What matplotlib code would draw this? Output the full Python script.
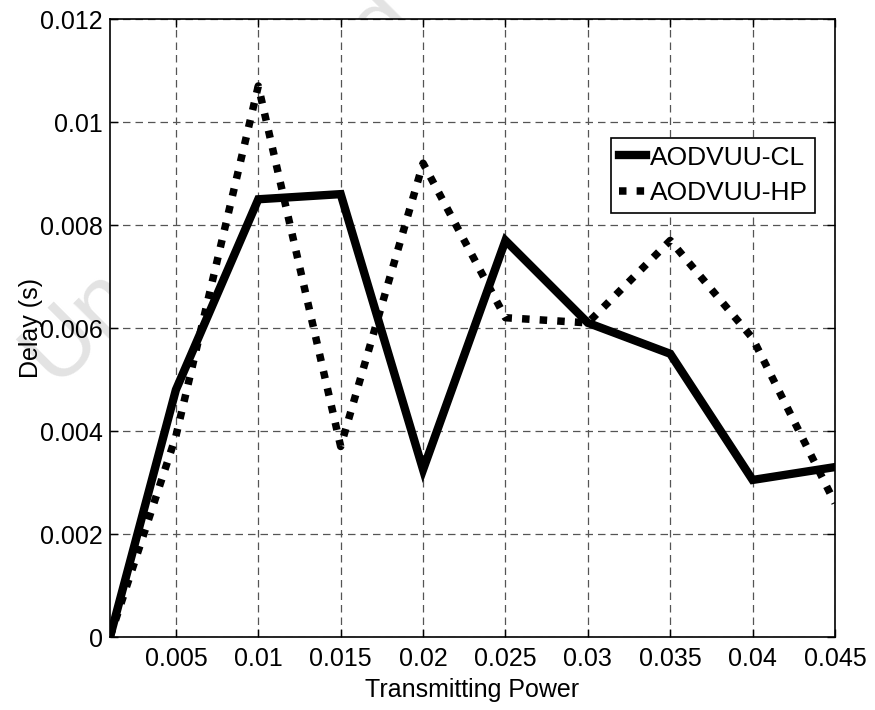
import matplotlib
matplotlib.use("Agg")
import matplotlib.pyplot as plt

plt.rcParams['font.family'] = ['Liberation Sans', 'DejaVu Sans']

# data
tx_power = [0.001, 0.005, 0.01, 0.015, 0.02, 0.025, 0.03, 0.035, 0.04, 0.045]
delay_cl = [0.0, 0.0048, 0.0085, 0.0086, 0.00325, 0.0077, 0.0061, 0.0055, 0.00305, 0.0033]
delay_hp = [0.0, 0.0039, 0.0107, 0.0037, 0.0092, 0.0062, 0.0061, 0.0077, 0.0058, 0.0026]

x_ticks = [0.005, 0.01, 0.015, 0.02, 0.025, 0.03, 0.035, 0.04, 0.045]
x_labels = ['0.005', '0.01', '0.015', '0.02', '0.025', '0.03', '0.035', '0.04', '0.045']
y_ticks = [0, 0.002, 0.004, 0.006, 0.008, 0.01, 0.012]
y_labels = ['0', '0.002', '0.004', '0.006', '0.008', '0.01', '0.012']

fig = plt.figure(figsize=(8.75, 7.1), dpi=100)
ax = fig.add_axes([0.1257, 0.1028, 0.8286, 0.8704])
ax.set_facecolor('white')

# faint watermark, drawn under the axes so it only shows in the margins
fig.text(0.063, 0.458, 'Uncorrected', fontsize=68, color='#e3e3e3', rotation=45,
         rotation_mode='anchor', ha='left', va='baseline', zorder=-1)

ax.plot(tx_power, delay_cl, color='black', lw=6, solid_joinstyle='miter',
        label='AODVUU-CL', zorder=3)
ax.plot(tx_power, delay_hp, color='black', lw=5.4, linestyle=(0, (1, 1.35)),
        dash_capstyle='butt', label='AODVUU-HP', zorder=3)

ax.set_xlim(0.001, 0.045)
ax.set_ylim(0, 0.012)
ax.set_xticks(x_ticks)
ax.set_xticklabels(x_labels)
ax.set_yticks(y_ticks)
ax.set_yticklabels(y_labels)

ax.grid(True, color='#555555', lw=0.9, linestyle=(0, (6, 4)))
ax.tick_params(direction='in', length=6, width=1, labelsize=18,
               top=True, right=True)
ax.tick_params(axis='x', pad=7)
ax.tick_params(axis='y', pad=5)
for s in ax.spines.values():
    s.set_linewidth(1.2)

ax.set_xlabel('Transmitting Power', fontsize=18)
ax.set_ylabel('Delay (s)', fontsize=18)
ax.xaxis.set_label_coords(0.5, -0.066)
ax.yaxis.set_label_coords(-0.092, 0.5)

leg = ax.legend(loc='upper right', bbox_to_anchor=(0.973, 0.808), borderaxespad=0,
                fontsize=19, handlelength=1.0, handletextpad=0.15,
                labelspacing=0.45, borderpad=0.3, fancybox=False, framealpha=1)
leg.get_frame().set_edgecolor('black')
leg.get_frame().set_linewidth(1.2)

fig.savefig('out.png', dpi=100)
